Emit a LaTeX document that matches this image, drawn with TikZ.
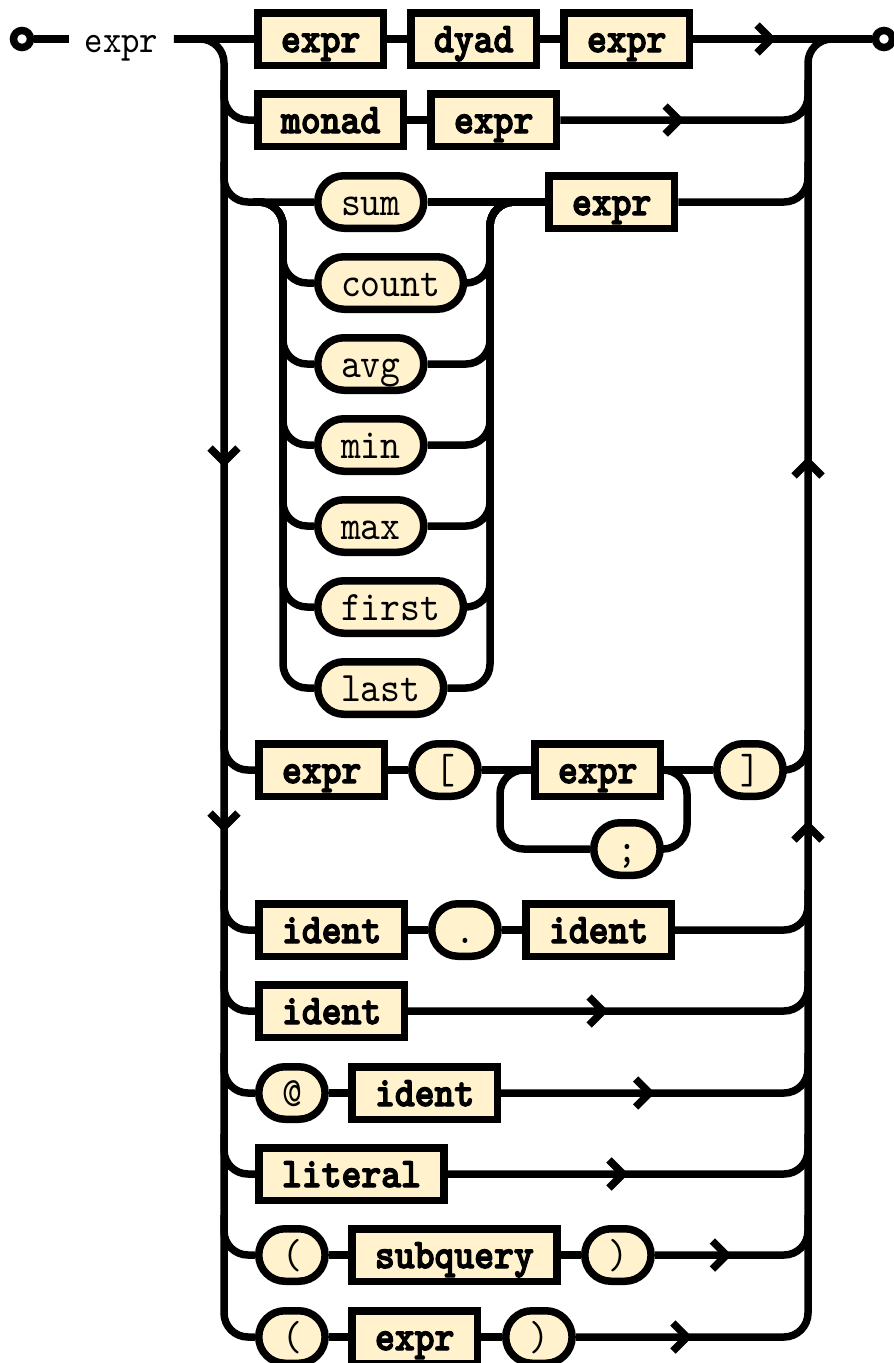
\documentclass[tikz,border=0pt]{standalone}
\usepackage{fontspec}
\newfontfamily\rrreg{lmmono10-regular.otf}[FakeStretch=0.9]
\newfontfamily\rrbold{lmmonolt10-bold.otf}[FakeStretch=0.9, FakeBold=3]
\usetikzlibrary{calc}
\definecolor{rrfill}{RGB}{255,242,204}
\tikzset{
  rc/.style={rounded corners=24pt},
  nt/.style={draw, fill=rrfill, line width=7.5pt,
    font=\rrbold\fontsize{42pt}{48pt}\selectfont,
    inner xsep=23.25pt, inner ysep=0pt, minimum height=52.5pt,
    text height=26pt, text depth=0pt, anchor=west},
  tm/.style={nt, rounded corners=26.25pt,
    font=\rrreg\fontsize{42pt}{48pt}\selectfont},
  termc/.style={circle, draw, fill=white, minimum size=17pt, inner sep=0pt},
  chev/.style={line width=7.5pt, line join=miter, line cap=butt},
  chevr/.pic={\draw[chev] (-7,-14) -- (7,0) -- (-7,14);},
  chevd/.pic={\draw[chev] (-14,-7) -- (0,7) -- (14,-7);},
  chevu/.pic={\draw[chev] (-14,7) -- (0,-7) -- (14,7);},
}
\begin{document}
\begin{tikzpicture}[x=1pt,y=-1pt,line width=7.5pt]
\useasboundingbox (0,0) rectangle (894,1363);
% rails
\coordinate (L) at (224,0);
\coordinate (R) at (808,0);
\coordinate (IL) at (283,0);
\coordinate (IR) at (490,0);
\coordinate (LL) at (500,0);
\coordinate (LR) at (687,0);
\coordinate (Rc) at (784,0);
% start / end
\node[termc] (startc) at (22,39) {};
\node[termc] (endc) at (884,39) {};
\node[font=\rrreg\fontsize{39pt}{44pt}\selectfont, inner sep=0pt, minimum width=97pt,
  text height=26pt, text depth=0pt] (lbl) at (121.5,39) {expr};
% row 1
\node[nt] (e1a) at (254,39) {expr};
\node[nt] (dy) at (407,39) {dyad};
\node[nt] (e1c) at (560,39) {expr};
% row 2
\node[nt] (mo) at (254,120) {monad};
\node[nt] (e2) at (427,120) {expr};
% row 3 and inner choice
\node[tm] (sum) at (314,202) {sum};
\node[nt] (expr3) at (545,202) {expr};
\node[tm] (count) at (314,283) {count};
\node[tm] (avg) at (314,364) {avg};
\node[tm] (min) at (314,445) {min};
\node[tm] (max) at (314,526) {max};
\node[tm] (first) at (314,607) {first};
\node[tm] (last) at (314,688) {last};
% row 8
\node[nt] (e8a) at (255,770) {expr};
\node[tm] (lb) at (408,770) {[};
\node[nt] (e8b) at (531,770) {expr};
\node[tm] (rb) at (713,770) {]};
\node[tm] (semi) at (590,849) {;};
% row 9
\node[nt] (id9a) at (255,930) {ident};
\node[tm] (dot) at (428,930) {.};
\node[nt] (id9b) at (522,930) {ident};
% row 10
\node[nt] (id10) at (255,1011) {ident};
% row 11
\node[tm] (at) at (255,1093) {@};
\node[nt] (id11) at (348,1093) {ident};
% row 12
\node[nt] (lit) at (255,1174) {literal};
% row 13
\node[tm] (lp13) at (255,1255) {(};
\node[nt] (sq) at (348,1255) {subquery};
\node[tm] (rp13) at (581,1255) {)};
% row 14
\node[tm] (lp14) at (255,1337) {(};
\node[nt] (e14) at (348,1337) {expr};
\node[tm] (rp14) at (502,1337) {)};

% entry / exit
\draw (startc) -- (lbl.west);
\draw (lbl.east) -- (e1a.west);
\draw[rc] (lbl.east) -| (L |- lp14.west) -- (lp14.west);
\draw (e1c.east) -- (endc.west);
\draw[rc] (rp14.east) -| (R |- endc.west) -- (endc.west);

% left branches
\foreach \n in {mo,sum,e8a,id9a,id10,at,lit,lp13}
  \draw[rc] ($(L |- \n.west)+(0,-40)$) |- (\n.west);
% right branches
\foreach \n in {e2,expr3,rb,id9b,id10,id11,lit,rp13}
  \draw[rc] (\n.east) -| ($(R |- \n.east)+(0,-40)$);

% chains
\draw (e1a) -- (dy); \draw (dy) -- (e1c);
\draw (mo) -- (e2);
\draw (sum) -- (expr3);
\draw (e8a) -- (lb); \draw (lb) -- (e8b); \draw (e8b) -- (rb);
\draw (id9a) -- (dot); \draw (dot) -- (id9b);
\draw (at) -- (id11);
\draw (lp13) -- (sq); \draw (sq) -- (rp13);
\draw (lp14) -- (e14); \draw (e14) -- (rp14);

% inner choice
\foreach \n in {count,avg,min,max,first,last} {
  \draw[rc] ($(IL |- sum.west)+(-30,0)$) -| (IL |- \n.west) -- (\n.west);
  \draw[rc] (\n.east) -| (IR |- sum.east) -- (expr3.west);
}

% loop
\draw[rc] (e8b.west) -| (LL |- semi.west) -- (semi.west);
\draw[rc] (e8b.east) -| (LR |- semi.east) -- (semi.east);

% arrows
\pic at (764,39) {chevr};
\foreach \n in {e2,id10,id11,lit,rp13,rp14}
  \pic at ($(\n.east)!.5!(Rc |- \n.east)$) {chevr};
\pic at (224,455) {chevd};
\pic at (224,820) {chevd};
\pic at (808,469) {chevu};
\pic at (808,833) {chevu};
\end{tikzpicture}
\end{document}
